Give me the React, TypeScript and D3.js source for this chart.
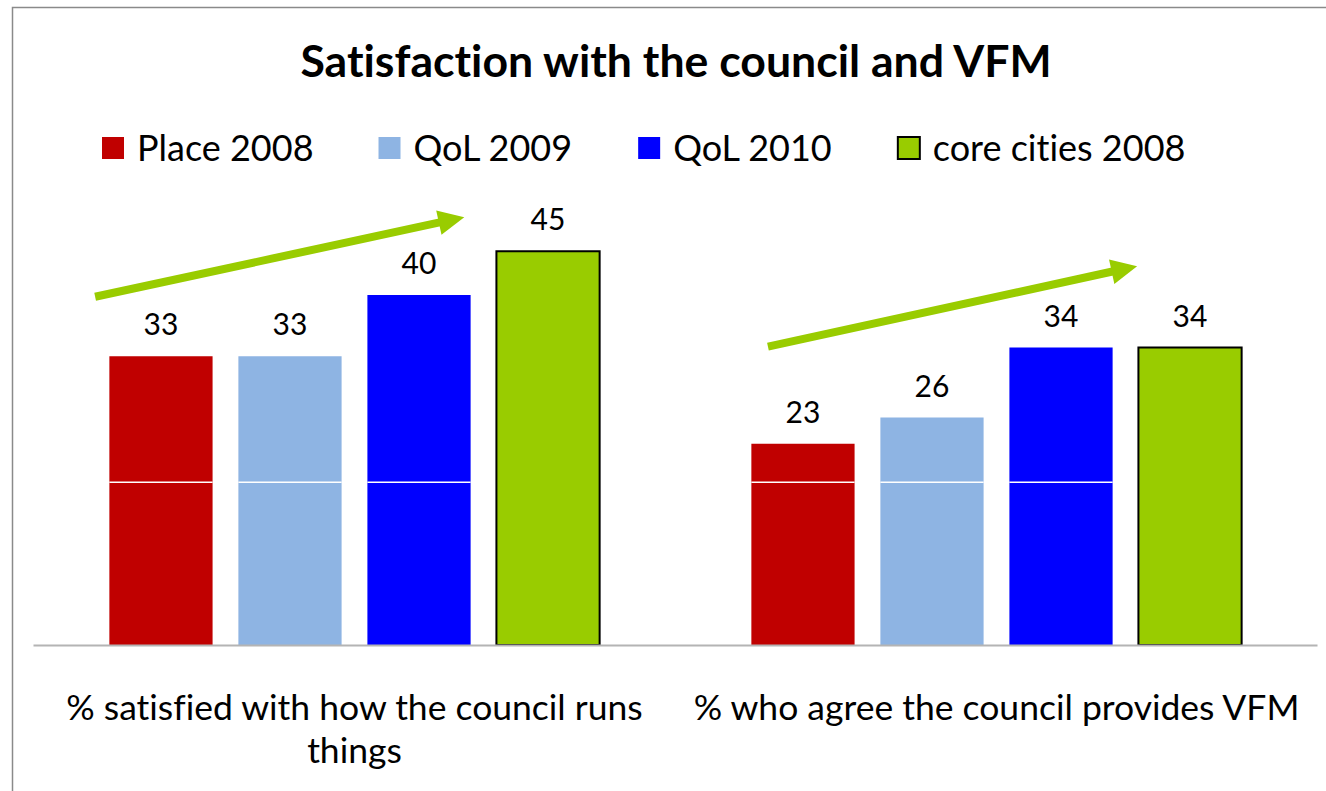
import React from 'react';
import * as d3 from 'd3';

// ---- data ----
const categories = [
  '% satisfied with how the council runs things',
  '% who agree the council provides VFM',
];
const seriesNames = ['Place 2008', 'QoL 2009', 'QoL 2010', 'core cities 2008'];
const seriesColors = ['#C00000', '#8EB4E3', '#0000FF', '#99CC00'];
const seriesOutlined = [false, false, false, true];
const place2008 = [33, 23];
const qol2009 = [33, 26];
const qol2010 = [40, 34];
const coreCities2008 = [45, 34];
const seriesValues = [place2008, qol2009, qol2010, coreCities2008];
// white line drawn over the first three series (value level)
const overlayLineValue = 18.6;
// trend arrows: category, start/end as fraction across the group band, and value level
const arrowCategory = [0, 1];
const arrowFromFrac = [0.096, 0.144];
const arrowToFrac = [0.671, 0.719];
const arrowFromValue = [39.8, 34.1];
const arrowToValue = [48.9, 43.3];
const yDomain = [0, 50];

const W = 1326;
const H = 791;
const FONT = 'Lato, "Open Sans", sans-serif';

const ctx = typeof document !== 'undefined' ? document.createElement('canvas').getContext('2d') : null;
function measure(text: string, font: string) {
  if (!ctx) return text.length * 10;
  ctx.font = font;
  return ctx.measureText(text).width;
}
function wrap(text: string, maxW: number, font: string) {
  const words = text.split(' ');
  const lines: string[] = [];
  let cur = '';
  for (const w of words) {
    const t = cur ? cur + ' ' + w : w;
    if (measure(t, font) > maxW && cur) {
      lines.push(cur);
      cur = w;
    } else cur = t;
  }
  if (cur) lines.push(cur);
  return lines;
}

const noLig = { fontVariantLigatures: 'none' } as React.CSSProperties;

export default function App() {
  const baseY = 645;
  const x0 = d3.scaleBand<number>().domain(d3.range(categories.length)).range([33.5, 1317.5]).paddingInner(0).paddingOuter(0);
  const x1 = d3.scaleBand<number>().domain(d3.range(seriesNames.length)).range([0, x0.bandwidth()]).paddingInner(0.2).paddingOuter(0.588);
  const y = d3.scaleLinear().domain(yDomain).range([baseY, 207.5]);

  const titleSize = 44.6;
  const legendSize = 36;
  const labelSize = 30;
  const catSize = 35.5;
  const legendFont = `${legendSize}px ${FONT}`;
  const catFont = `${catSize}px ${FONT}`;

  // legend layout
  const legendItems: { x: number; tx: number; i: number }[] = [];
  let lx = 102;
  seriesNames.forEach((n, i) => {
    legendItems.push({ x: lx, tx: lx + 35, i });
    lx = lx + 35 + measure(n, legendFont) + 65;
  });

  const arrows = arrowCategory.map((c, k) => {
    const bx = x0(c)!;
    const bw = x0.bandwidth();
    const sx = bx + arrowFromFrac[k] * bw;
    const sy = y(arrowFromValue[k]);
    const tx = bx + arrowToFrac[k] * bw;
    const ty = y(arrowToValue[k]);
    const dx = tx - sx, dy = ty - sy;
    const len = Math.hypot(dx, dy);
    const ux = dx / len, uy = dy / len;
    const px = -uy, py = ux;
    const headLen = 26, headHalf = 12.5;
    const hbx = tx - ux * headLen, hby = ty - uy * headLen;
    return {
      line: [sx, sy, hbx + ux * 2, hby + uy * 2],
      head: `${tx},${ty} ${hbx + px * headHalf},${hby + py * headHalf} ${hbx - px * headHalf},${hby - py * headHalf}`,
    };
  });

  return (
    <div style={{ position: 'absolute', left: 0, top: 0 }}>
      <svg width={W} height={H} style={{ display: 'block', background: '#fff' }}>
        {/* frame */}
        <path d={`M12.5,${H} V7.5 H${W}`} fill="none" stroke="#8a8a8a" strokeWidth={1.5} />
        {/* title */}
        <text x={676} y={77} textAnchor="middle" fontFamily={FONT} fontWeight="bold" fontSize={titleSize} fill="#000" style={noLig}>
          Satisfaction with the council and VFM
        </text>
        {/* legend */}
        {legendItems.map(({ x, tx, i }) => (
          <g key={i}>
            <rect x={x} y={137} width={22} height={22} fill={seriesColors[i]} stroke={seriesOutlined[i] ? '#000' : 'none'} strokeWidth={2} />
            <text x={tx} y={161} fontFamily={FONT} fontSize={legendSize} fill="#000" style={noLig}>{seriesNames[i]}</text>
          </g>
        ))}
        {/* bars */}
        {categories.map((c, ci) => (
          <g key={ci} transform={`translate(${x0(ci)},0)`}>
            {seriesValues.map((vals, si) => (
              <rect
                key={si}
                x={x1(si)}
                y={y(vals[ci])}
                width={x1.bandwidth()}
                height={baseY - y(vals[ci])}
                fill={seriesColors[si]}
                stroke={seriesOutlined[si] ? '#000' : 'none'}
                strokeWidth={2}
              />
            ))}
            {seriesValues.map((vals, si) =>
              seriesOutlined[si] ? null : (
                <line key={'w' + si} x1={x1(si)} x2={x1(si)! + x1.bandwidth()} y1={y(overlayLineValue)} y2={y(overlayLineValue)} stroke="#fff" strokeWidth={1.5} />
              )
            )}
            {seriesValues.map((vals, si) => (
              <text key={'t' + si} x={x1(si)! + x1.bandwidth() / 2} y={y(vals[ci]) - 21} textAnchor="middle" fontFamily={FONT} fontSize={labelSize} fill="#000">
                {vals[ci]}
              </text>
            ))}
          </g>
        ))}
        {/* baseline */}
        <line x1={33.5} x2={1317.5} y1={baseY + 0.5} y2={baseY + 0.5} stroke="#b4b4b4" strokeWidth={2} />
        {/* category labels */}
        {categories.map((c, ci) => {
          const lines = wrap(c, x0.bandwidth() - 20, catFont);
          return (
            <text key={ci} textAnchor="middle" fontFamily={FONT} fontSize={catSize} fill="#000" style={noLig}>
              {lines.map((l, li) => (
                <tspan key={li} x={x0(ci)! + x0.bandwidth() / 2} y={720 + li * 43}>{l}</tspan>
              ))}
            </text>
          );
        })}
        {/* trend arrows */}
        {arrows.map((a, k) => (
          <g key={k}>
            <line x1={a.line[0]} y1={a.line[1]} x2={a.line[2]} y2={a.line[3]} stroke="#99CC00" strokeWidth={8} />
            <polygon points={a.head} fill="#99CC00" />
          </g>
        ))}
      </svg>
    </div>
  );
}
